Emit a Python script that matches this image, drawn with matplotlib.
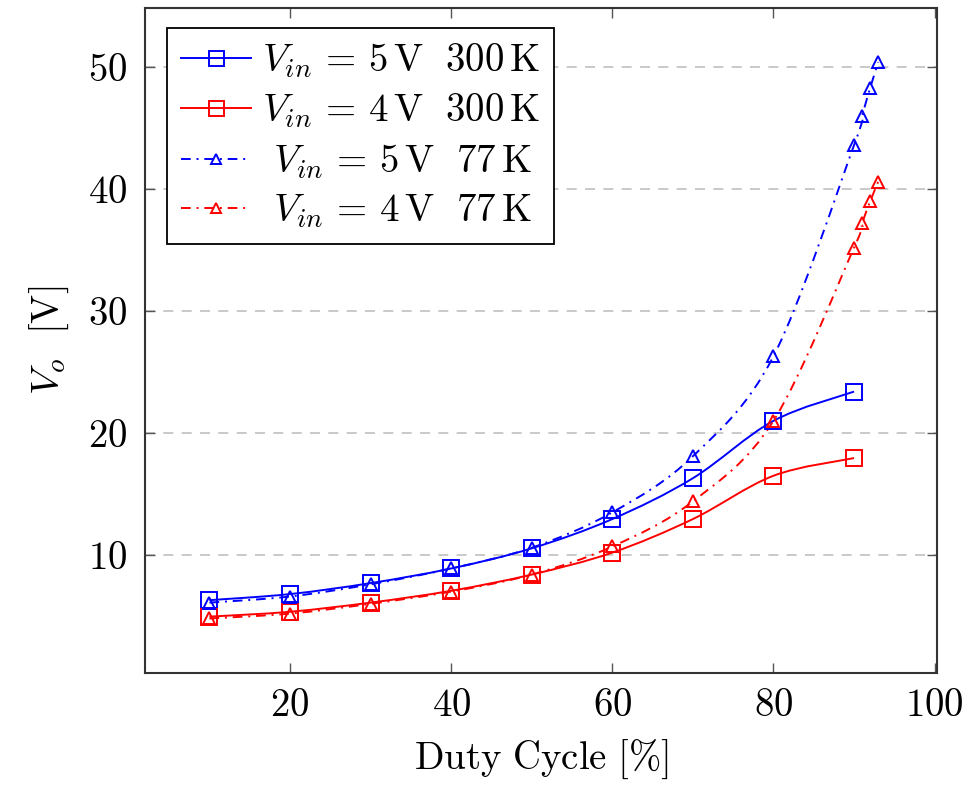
## plot.py : tension de sortie vs rapport cyclique
#%% IMPORTATION
import numpy as np
import matplotlib.pyplot as plt
from matplotlib.path import Path
from matplotlib.patches import PathPatch
from matplotlib.lines import Line2D

plt.rcParams['mathtext.fontset'] = 'cm'
plt.rcParams['font.family'] = ['cmr10', 'DejaVu Serif']
plt.rcParams['axes.formatter.use_mathtext'] = True

#%% DONNÉES
duty = [10, 20, 30, 40, 50, 60, 70, 80, 90]
vo_5v_300k = [6.3, 6.8, 7.7, 8.9, 10.55, 12.95, 16.3, 21.0, 23.4]
vo_4v_300k = [4.95, 5.35, 6.1, 7.07, 8.4, 10.2, 12.95, 16.5, 17.95]

duty_77k = [10, 20, 30, 40, 50, 60, 70, 80, 90, 91, 92, 93]
vo_5v_77k = [6.1, 6.6, 7.6, 8.9, 10.6, 13.5, 18.1, 26.3, 43.6, 46.0, 48.3, 50.4]
vo_4v_77k = [4.8, 5.2, 6.0, 7.0, 8.4, 10.7, 14.4, 21.0, 35.2, 37.2, 39.0, 40.6]

labels = [r'$V_{in}\,=\,5\,\mathrm{V}\ \ 300\,\mathrm{K}$',
          r'$V_{in}\,=\,4\,\mathrm{V}\ \ 300\,\mathrm{K}$',
          r'$\,\,V_{in}\,=\,5\,\mathrm{V}\ \ 77\,\mathrm{K}$',
          r'$\,\,V_{in}\,=\,4\,\mathrm{V}\ \ 77\,\mathrm{K}$']

xticks = [20, 40, 60, 80, 100]
yticks = [10, 20, 30, 40, 50]

FS = 28

#%% COURBE LISSÉE (comme "smooth" de pgfplots)
def smooth_path(x, y, k=1/6):
    p = np.column_stack([x, y]).astype(float)
    verts = [p[0]]
    codes = [Path.MOVETO]
    n = len(p)
    for i in range(n - 1):
        p0 = p[i - 1] if i > 0 else p[i]
        p3 = p[i + 2] if i + 2 < n else p[i + 1]
        c1 = p[i] + (p[i + 1] - p0) * k
        c2 = p[i + 1] - (p3 - p[i]) * k
        verts += [c1, c2, p[i + 1]]
        codes += [Path.CURVE4] * 3
    return Path(verts, codes)

dashdot = (0, (5, 3, 1, 3))

series = [
    (duty, vo_5v_300k, 'blue', '-', 's', 12),
    (duty, vo_4v_300k, 'red', '-', 's', 12),
    (duty_77k, vo_5v_77k, 'blue', dashdot, '^', 8),
    (duty_77k, vo_4v_77k, 'red', dashdot, '^', 8),
]

#%% FIGURE
fig = plt.figure(figsize=(9.68, 7.85), dpi=100)
ax = fig.add_axes([0.1498, 0.1427, 0.8182, 0.8471])

handles = []
for (xs, ys, c, ls, m, ms), lab in zip(series, labels):
    ax.add_patch(PathPatch(smooth_path(xs, ys), fill=False, edgecolor=c,
                           linestyle=ls, linewidth=1.4, zorder=3))
    ax.plot(xs, ys, linestyle='none', marker=m, markersize=ms,
            markerfacecolor='none', markeredgecolor=c, markeredgewidth=1.4,
            zorder=4)
    handles.append(Line2D([], [], color=c, linestyle=ls, linewidth=1.4,
                          marker=m, markersize=ms * 0.9,
                          markerfacecolor='none', markeredgewidth=1.4))

ax.set_xlim(2.0, 100.3)
ax.set_ylim(0.33, 54.85)
ax.set_xticks(xticks)
ax.set_yticks(yticks)
ax.set_xticklabels([f'${t}$' for t in xticks])
ax.set_yticklabels([f'${t}$' for t in yticks])
ax.tick_params(direction='in', length=7, width=1, color='#555555',
               top=True, right=True, labelsize=FS)
ax.tick_params(axis='x', pad=11)
ax.tick_params(axis='y', pad=13)
ax.yaxis.grid(True, linestyle=(0, (6, 5)), color='#c0c0c0', linewidth=1.2)
ax.set_axisbelow(True)
for s in ax.spines.values():
    s.set_linewidth(1.5)
    s.set_color('#333333')

ax.set_xlabel(r'$\mathrm{Duty\ Cycle\ [\%]}$', fontsize=FS, labelpad=10)
ax.set_ylabel(r'$V_o\ \ \mathrm{[V]}$', fontsize=FS, labelpad=12)

leg = ax.legend(handles, labels, loc='upper left',
                bbox_to_anchor=(0.028, 0.97), fontsize=FS, frameon=True,
                fancybox=False, edgecolor='black', framealpha=1,
                handlelength=1.8, borderpad=0.35, labelspacing=0.3,
                handletextpad=0.3, borderaxespad=0)
leg.get_frame().set_linewidth(1.3)

plt.savefig('out.png', dpi=100)
